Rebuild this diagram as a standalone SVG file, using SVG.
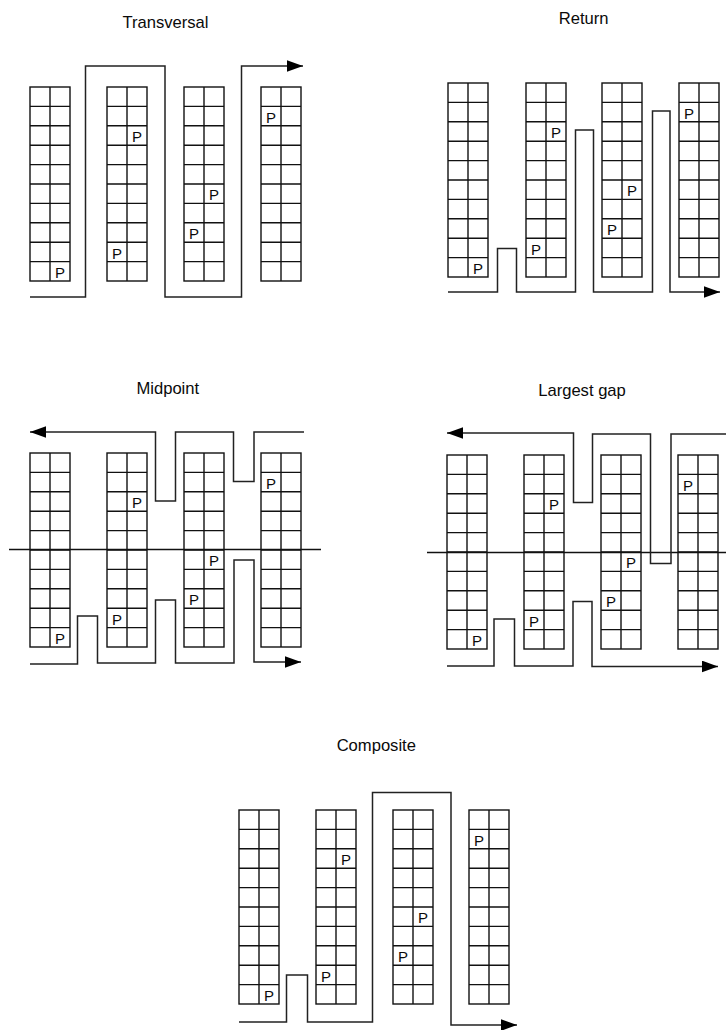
<svg xmlns="http://www.w3.org/2000/svg" xmlns:xlink="http://www.w3.org/1999/xlink" width="726" height="1030" viewBox="0 0 726 1030">
<style>
.grid{fill:none;stroke:#111;stroke-width:1.4}
.route{fill:none;stroke:#222;stroke-width:1.5}
.mid{fill:none;stroke:#111;stroke-width:1.3}
.p{font-family:"Liberation Sans",Arial,sans-serif;font-size:15px;text-anchor:middle;fill:#0a0a0a}
.title{font-family:"Liberation Sans",Arial,sans-serif;font-size:16.6px;text-anchor:middle;fill:#0a0a0a}
</style>
<defs>
<g id="rack">
<rect class="grid" x="0" y="0" width="40" height="194"/>
<path class="grid" d="M20,0V194M0,19.4H40M0,38.8H40M0,58.2H40M0,77.6H40M0,97H40M0,116.4H40M0,135.8H40M0,155.2H40M0,174.6H40"/>
</g>
<marker id="arr" markerUnits="userSpaceOnUse" markerWidth="16" markerHeight="12" viewBox="0 0 15 11" refX="15" refY="5.5" orient="auto">
<path d="M0,0L15,5.5L0,11z" fill="#000"/>
</marker>
</defs>

<!-- Panel 1: Transversal -->
<g id="transversal">
<text class="title" x="165.5" y="28">Transversal</text>
<g id="t-rack1" transform="translate(30,87)"><use xlink:href="#rack" href="#rack"/><text class="p" x="30" y="191">P</text></g>
<g id="t-rack2" transform="translate(107,87)"><use xlink:href="#rack" href="#rack"/><text class="p" x="30" y="55.2">P</text><text class="p" x="10" y="171.6">P</text></g>
<g id="t-rack3" transform="translate(184,87)"><use xlink:href="#rack" href="#rack"/><text class="p" x="30" y="113.4">P</text><text class="p" x="10" y="152.2">P</text></g>
<g id="t-rack4" transform="translate(261,87)"><use xlink:href="#rack" href="#rack"/><text class="p" x="10" y="35.8">P</text></g>
</g>

<!-- Panel 2: Return -->
<g id="return">
<text class="title" x="583.7" y="24">Return</text>
<g id="r-rack1" transform="translate(448,83)"><use xlink:href="#rack" href="#rack"/><text class="p" x="30" y="191">P</text></g>
<g id="r-rack2" transform="translate(526,83)"><use xlink:href="#rack" href="#rack"/><text class="p" x="30" y="55.2">P</text><text class="p" x="10" y="171.6">P</text></g>
<g id="r-rack3" transform="translate(602,83)"><use xlink:href="#rack" href="#rack"/><text class="p" x="30" y="113.4">P</text><text class="p" x="10" y="152.2">P</text></g>
<g id="r-rack4" transform="translate(679,83)"><use xlink:href="#rack" href="#rack"/><text class="p" x="10" y="35.8">P</text></g>
</g>

<!-- Panel 3: Midpoint -->
<g id="midpoint">
<text class="title" x="167.8" y="394">Midpoint</text>
<g id="m-rack1" transform="translate(30,453)"><use xlink:href="#rack" href="#rack"/><text class="p" x="30" y="191">P</text></g>
<g id="m-rack2" transform="translate(107,453)"><use xlink:href="#rack" href="#rack"/><text class="p" x="30" y="55.2">P</text><text class="p" x="10" y="171.6">P</text></g>
<g id="m-rack3" transform="translate(184,453)"><use xlink:href="#rack" href="#rack"/><text class="p" x="30" y="113.4">P</text><text class="p" x="10" y="152.2">P</text></g>
<g id="m-rack4" transform="translate(261,453)"><use xlink:href="#rack" href="#rack"/><text class="p" x="10" y="35.8">P</text></g>
</g>

<!-- Panel 4: Largest gap -->
<g id="largest-gap">
<text class="title" x="582" y="395.5">Largest gap</text>
<g id="l-rack1" transform="translate(447,455)"><use xlink:href="#rack" href="#rack"/><text class="p" x="30" y="191">P</text></g>
<g id="l-rack2" transform="translate(524,455)"><use xlink:href="#rack" href="#rack"/><text class="p" x="30" y="55.2">P</text><text class="p" x="10" y="171.6">P</text></g>
<g id="l-rack3" transform="translate(601,455)"><use xlink:href="#rack" href="#rack"/><text class="p" x="30" y="113.4">P</text><text class="p" x="10" y="152.2">P</text></g>
<g id="l-rack4" transform="translate(678,455)"><use xlink:href="#rack" href="#rack"/><text class="p" x="10" y="35.8">P</text></g>
</g>

<!-- Panel 5: Composite -->
<g id="composite">
<text class="title" x="376.3" y="751">Composite</text>
<g id="c-rack1" transform="translate(239,810)"><use xlink:href="#rack" href="#rack"/><text class="p" x="30" y="191">P</text></g>
<g id="c-rack2" transform="translate(316,810)"><use xlink:href="#rack" href="#rack"/><text class="p" x="30" y="55.2">P</text><text class="p" x="10" y="171.6">P</text></g>
<g id="c-rack3" transform="translate(393,810)"><use xlink:href="#rack" href="#rack"/><text class="p" x="30" y="113.4">P</text><text class="p" x="10" y="152.2">P</text></g>
<g id="c-rack4" transform="translate(469,810)"><use xlink:href="#rack" href="#rack"/><text class="p" x="10" y="35.8">P</text></g>
</g>

<!-- Connectors: routes and midlines -->
<g id="connectors">
<path class="route" marker-end="url(#arr)" d="M30,297H85.5V66H165V297H241.5V66H303"/>
<path class="route" marker-end="url(#arr)" d="M448,292H497.5V248.5H516.5V292H575.5V130H593.5V292H652.5V111H670V292H720"/>
<path class="mid" d="M9,549.5H321"/>
<path class="route" marker-end="url(#arr)" d="M304,432H254V481.5H233.5V432H175.5V501H155.5V432H30"/>
<path class="route" marker-end="url(#arr)" d="M30,664H77.5V616H97.5V663H155.5V600H175.5V663H234V560H254V662H301"/>
<path class="mid" d="M427,552.5H726"/>
<path class="route" marker-end="url(#arr)" d="M726,434H671V563.5H650.5V434H592.5V502.5H573.5V433H447"/>
<path class="route" marker-end="url(#arr)" d="M447,666H494V619H514.5V666H573V601.5H592V666.5H718"/>
<path class="route" marker-end="url(#arr)" d="M239,1022H286.5V975H307.5V1022H372.5V792.5H451V1025H517"/>
</g>
</svg>
